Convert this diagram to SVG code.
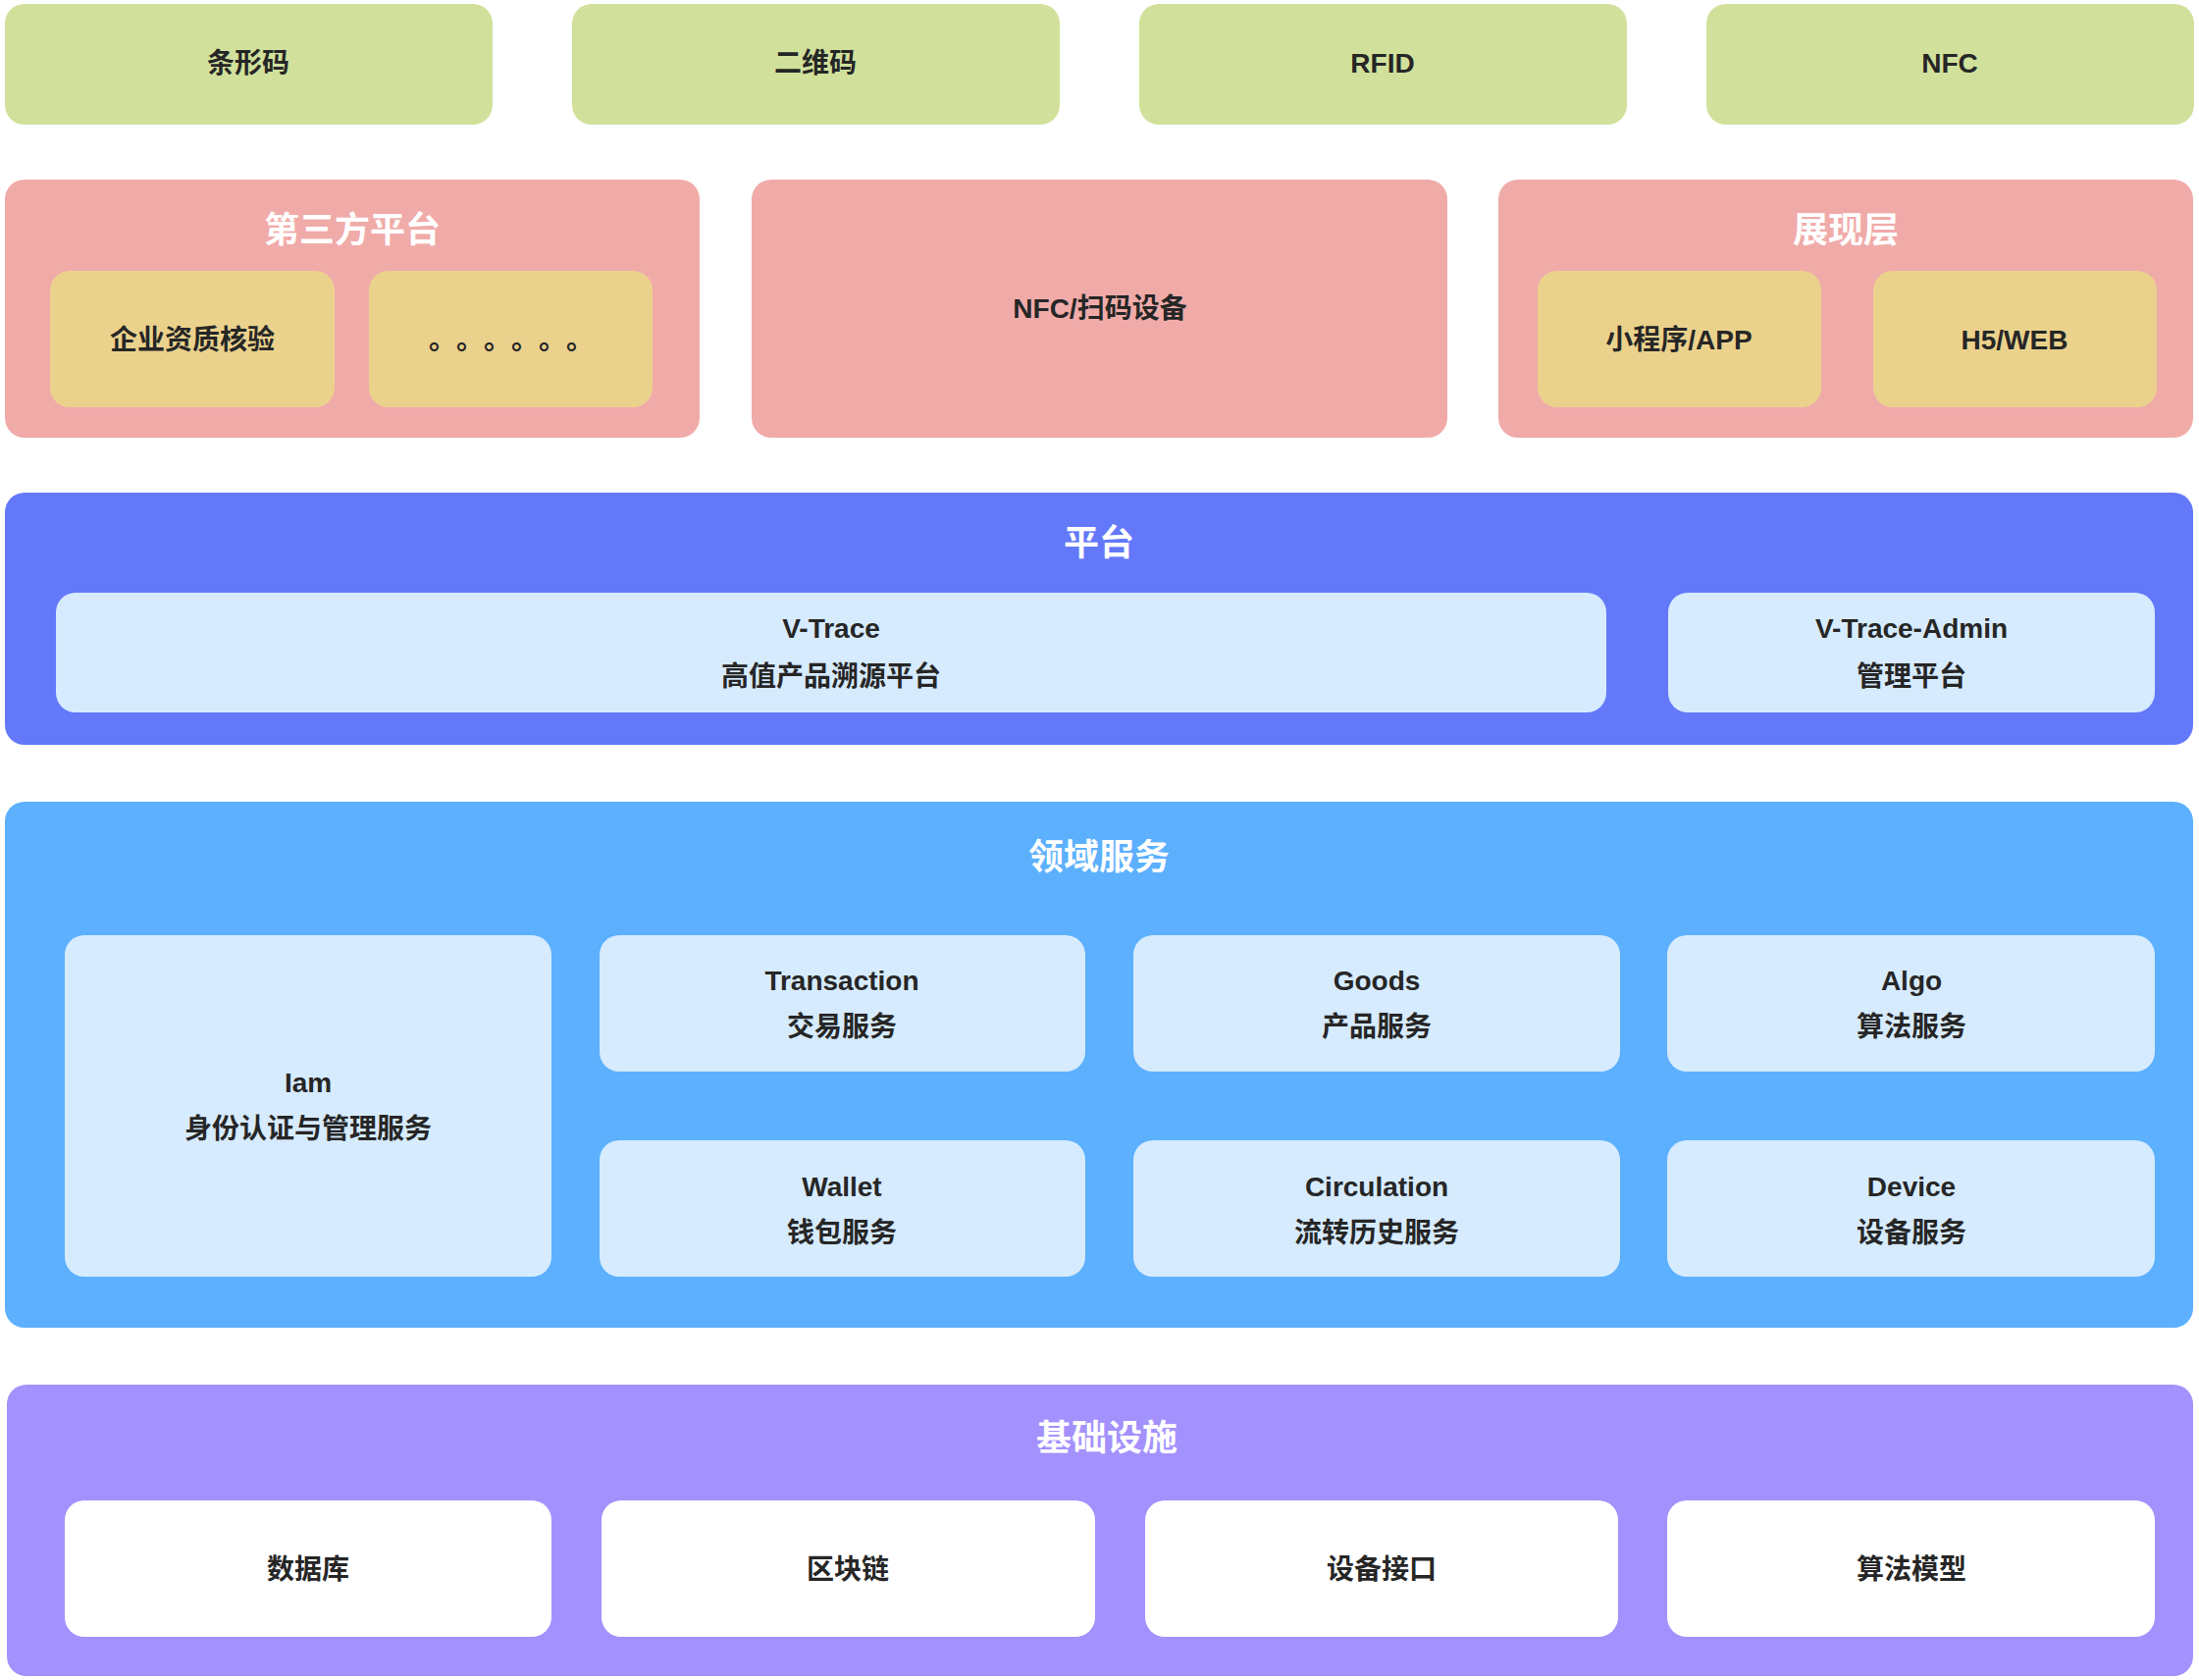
<svg xmlns="http://www.w3.org/2000/svg" width="2241" height="1712" viewBox="0 0 2241 1712">
<style>
text{font-family:"Liberation Sans","Noto Sans CJK SC",sans-serif;font-weight:bold;text-anchor:middle;}
.t{font-size:28px;fill:#262626;}
.h{font-size:36px;fill:#ffffff;}
.green{fill:#d1e19c;}
.pink{fill:#f0aba9;}
.yellow{fill:#ebd28c;}
.blue{fill:#6379fa;}
.light{fill:#d6ebfe;}
.sky{fill:#5cb0fe;}
.purple{fill:#a391fd;}
.white{fill:#ffffff;}
</style>
<rect width="2241" height="1712" fill="#ffffff"/>

<g id="barcode"><rect class="green" x="5" y="4" width="497" height="123" rx="20"/><text class="t" x="253" y="74">条形码</text></g>
<g id="qrcode"><rect class="green" x="583" y="4" width="497" height="123" rx="20"/><text class="t" x="831" y="74">二维码</text></g>
<g id="rfid"><rect class="green" x="1161" y="4" width="497" height="123" rx="20"/><text class="t" x="1409" y="74">RFID</text></g>
<g id="nfc"><rect class="green" x="1739" y="4" width="497" height="123" rx="20"/><text class="t" x="1987" y="74">NFC</text></g>

<g id="third-party">
<rect class="pink" x="5" y="183" width="708" height="263" rx="20"/>
<text class="h" x="359" y="247">第三方平台</text>
</g>
<g id="enterprise-check"><rect class="yellow" x="51" y="276" width="290" height="139" rx="20"/><text class="t" x="196" y="356">企业资质核验</text></g>
<g id="etc"><rect class="yellow" x="376" y="276" width="289" height="139" rx="20"/><text class="t" x="451 479 507 535 563 591" y="356">。。。。。。</text></g>

<g id="nfc-device"><rect class="pink" x="766" y="183" width="709" height="263" rx="20"/><text class="t" x="1121" y="324">NFC/扫码设备</text></g>

<g id="presentation">
<rect class="pink" x="1527" y="183" width="708" height="263" rx="20"/>
<text class="h" x="1881" y="247">展现层</text>
</g>
<g id="miniapp"><rect class="yellow" x="1567" y="276" width="289" height="139" rx="20"/><text class="t" x="1711" y="356">小程序/APP</text></g>
<g id="h5web"><rect class="yellow" x="1909" y="276" width="289" height="139" rx="20"/><text class="t" x="2053" y="356">H5/WEB</text></g>

<g id="platform">
<rect class="blue" x="5" y="502" width="2230" height="257" rx="20"/>
<text class="h" x="1120" y="566">平台</text>
</g>
<g id="v-trace"><rect class="light" x="57" y="604" width="1580" height="122" rx="20"/><text class="t" x="847" y="650">V-Trace</text><text class="t" x="847" y="699">高值产品溯源平台</text></g>
<g id="v-trace-admin"><rect class="light" x="1700" y="604" width="496" height="122" rx="20"/><text class="t" x="1948" y="650">V-Trace-Admin</text><text class="t" x="1948" y="699">管理平台</text></g>

<g id="domain">
<rect class="sky" x="5" y="817" width="2230" height="536" rx="20"/>
<text class="h" x="1120" y="886">领域服务</text>
</g>
<g id="iam"><rect class="light" x="66" y="953" width="496" height="348" rx="20"/><text class="t" x="314" y="1113">Iam</text><text class="t" x="314" y="1160">身份认证与管理服务</text></g>
<g id="transaction"><rect class="light" x="611" y="953" width="495" height="139" rx="20"/><text class="t" x="858" y="1009">Transaction</text><text class="t" x="858" y="1056">交易服务</text></g>
<g id="goods"><rect class="light" x="1155" y="953" width="496" height="139" rx="20"/><text class="t" x="1403" y="1009">Goods</text><text class="t" x="1403" y="1056">产品服务</text></g>
<g id="algo"><rect class="light" x="1699" y="953" width="497" height="139" rx="20"/><text class="t" x="1948" y="1009">Algo</text><text class="t" x="1948" y="1056">算法服务</text></g>
<g id="wallet"><rect class="light" x="611" y="1162" width="495" height="139" rx="20"/><text class="t" x="858" y="1219">Wallet</text><text class="t" x="858" y="1266">钱包服务</text></g>
<g id="circulation"><rect class="light" x="1155" y="1162" width="496" height="139" rx="20"/><text class="t" x="1403" y="1219">Circulation</text><text class="t" x="1403" y="1266">流转历史服务</text></g>
<g id="device"><rect class="light" x="1699" y="1162" width="497" height="139" rx="20"/><text class="t" x="1948" y="1219">Device</text><text class="t" x="1948" y="1266">设备服务</text></g>

<g id="infrastructure">
<rect class="purple" x="7" y="1411" width="2228" height="297" rx="20"/>
<text class="h" x="1128" y="1478">基础设施</text>
</g>
<g id="database"><rect class="white" x="66" y="1529" width="496" height="139" rx="20"/><text class="t" x="314" y="1609">数据库</text></g>
<g id="blockchain"><rect class="white" x="613" y="1529" width="503" height="139" rx="20"/><text class="t" x="864" y="1609">区块链</text></g>
<g id="device-api"><rect class="white" x="1167" y="1529" width="482" height="139" rx="20"/><text class="t" x="1408" y="1609">设备接口</text></g>
<g id="algo-model"><rect class="white" x="1699" y="1529" width="497" height="139" rx="20"/><text class="t" x="1948" y="1609">算法模型</text></g>

<g id="connectors"/>
</svg>
